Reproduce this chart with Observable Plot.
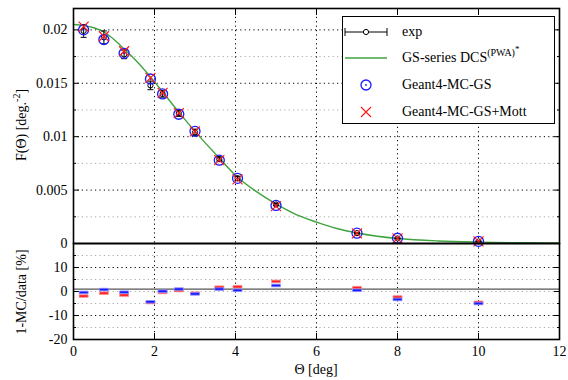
<!DOCTYPE html>
<html>
<head>
<meta charset="utf-8">
<script src="https://cdn.jsdelivr.net/npm/d3@7"></script>
<script src="https://cdn.jsdelivr.net/npm/@observablehq/plot@0.6"></script>
<style>
  body { margin: 0; background: #fff; }
  #wrap { position: relative; width: 568px; height: 380px; font-family: "Liberation Serif", "Times New Roman", Times, "DejaVu Serif", "Noto Serif", serif; color: #000; }
  #wrap svg { position: absolute; left: 0; overflow: visible; background: transparent; }
  #wrap svg text { font-family: "Liberation Serif", "Times New Roman", Times, "DejaVu Serif", "Noto Serif", serif; }
  .lbl { position: absolute; font-size: 14px; white-space: nowrap; }
  .ylab { position: absolute; font-size: 14px; white-space: nowrap; transform: translate(-50%, -50%) rotate(-90deg); }
  .legend { position: absolute; left: 342px; top: 16px; width: 213px; height: 108px; border: 1px solid #000; background: #fff; font-size: 14px; box-sizing: border-box; }
  .row { position: absolute; left: 0; height: 20px; width: 100%; }
  .row svg { position: absolute; left: 6px; top: 0; }
  .row span { position: absolute; left: 59px; top: 1px; line-height: 18px; }
  sup { font-size: 10px; line-height: 0; vertical-align: 6px; }
  sup sup { vertical-align: 4px; font-size: 9px; }
</style>
</head>
<body>
<div id="wrap"></div>
<script>
// ---- data ----
const theta   = [0.25, 0.75, 1.25, 1.9, 2.2, 2.6, 3.0, 3.6, 4.05, 5.0, 7.0, 8.0, 10.0];
const expF    = [0.0199, 0.0193, 0.0177, 0.0148, 0.0140, 0.0122, 0.0104, 0.0079, 0.0061, 0.00365, 0.00097, 0.00047, 0.00019];
const expErr  = [0.0006, 0.0006, 0.0004, 0.0004, 0.0003, 0.0003, 0.0003, 0.0002, 0.0002, 0.0001, 0.00005, 0.00003, 0.00002];
const mcGS    = [0.0200, 0.0191, 0.0178, 0.0154, 0.0140, 0.0121, 0.0105, 0.0078, 0.0061, 0.00356, 0.00097, 0.00049, 0.00020];
const mcMott  = [0.0203, 0.0194, 0.0180, 0.0155, 0.0141, 0.0122, 0.0105, 0.0078, 0.0060, 0.00350, 0.00095, 0.00048, 0.00020];
const resGS   = [-0.4, 0.8, -0.3, -4.3, 0.1, 1.0, -1.0, 1.0, 0.5, 2.5, 0.5, -3.3, -5.0];
const resMott = [-1.9, -0.7, -1.5, -4.6, -0.4, 0.4, -0.7, 1.8, 2.0, 4.2, 1.6, -2.3, -4.5];
const curveTheta = [0, 0.25, 0.5, 0.75, 1.0, 1.25, 1.5, 1.9, 2.2, 2.6, 3.0, 3.6, 4.05, 4.5, 5.0, 5.5, 6.0, 6.5, 7.0, 7.5, 8.0, 9.0, 10.0, 11.0, 12.0];
const curveF     = [0.0205, 0.0204, 0.0202, 0.0198, 0.0191, 0.0182, 0.0173, 0.0156, 0.0142, 0.0123, 0.0105, 0.0080, 0.0062, 0.0049, 0.0037, 0.0027, 0.0020, 0.0014, 0.00098, 0.00068, 0.00047, 0.00024, 0.00013, 0.00007, 0.00004];
const xTicks = [0, 2, 4, 6, 8, 10, 12];
const yTicksTop = [0, 0.005, 0.01, 0.015, 0.02];
const yMinorTop = [0.0025, 0.0075, 0.0125, 0.0175];
const yTicksBot = [-20, -10, 0, 10];
const yMinorBot = [-15, -5, 5, 15];
const yRefLine = 1;

(function () {
const FONT = "'Liberation Serif', 'Times New Roman', Times, 'DejaVu Serif', 'Noto Serif', serif";
const pts = theta.map((t, i) => ({t, e: expF[i], err: expErr[i], gs: mcGS[i], mott: mcMott[i], rg: resGS[i], rm: resMott[i]}));
const curve = curveTheta.map((t, i) => ({t, f: curveF[i]}));

// custom symbols
const timesSym = {draw(ctx, size) { const s = Math.sqrt(size / Math.PI); ctx.moveTo(-s, -s); ctx.lineTo(s, s); ctx.moveTo(s, -s); ctx.lineTo(-s, s); }};
const dashSym = {draw(ctx, size) { ctx.rect(-4.5, -1.3, 9, 2.6); }};
const capSym = {draw(ctx, size) { ctx.moveTo(-3, 0); ctx.lineTo(3, 0); }};

const dotted = {stroke: "#000", strokeOpacity: 1, strokeDasharray: "1.2,3.2", strokeWidth: 1};
const dottedLight = {stroke: "#aaa", strokeOpacity: 1, strokeDasharray: "1.2,3.2", strokeWidth: 1};
const innerX = [2, 4, 6, 8, 10];

const topPlot = Plot.plot({
  width: 568, height: 245,
  marginTop: 8, marginBottom: 2, marginLeft: 73, marginRight: 9,
  style: {fontFamily: FONT, fontSize: "14px", background: "transparent"},
  x: {domain: [0, 12]},
  y: {domain: [0, 0.022]},
  marks: [
    Plot.gridY(yMinorTop, dottedLight),
    Plot.gridY(yTicksTop.filter(d => d > 0), dotted),
    Plot.gridX(innerX, dotted),
    Plot.axisY(yTicksTop, {anchor: "left", tickSize: 0, tickPadding: 6, tickFormat: d => d === 0 ? "0" : String(d), label: null, fontSize: 14}),
    Plot.axisY(yTicksTop, {anchor: "left", tickSize: -6, tickFormat: () => "", label: null}),
    Plot.axisY(yMinorTop, {anchor: "left", tickSize: -3, tickFormat: () => "", label: null}),
    Plot.axisY(yTicksTop, {anchor: "right", tickSize: -6, tickFormat: () => "", label: null}),
    Plot.axisY(yMinorTop, {anchor: "right", tickSize: -3, tickFormat: () => "", label: null}),
    Plot.axisX(xTicks, {anchor: "top", tickSize: -6, tickFormat: () => "", label: null}),
    Plot.line(curve, {x: "t", y: "f", stroke: "#3fa33f", strokeWidth: 1.4, curve: "monotone-x"}),
    Plot.ruleX(pts, {x: "t", y1: d => d.e - d.err, y2: d => d.e + d.err, stroke: "#000", strokeWidth: 1}),
    Plot.dot(pts, {x: "t", y: d => d.e - d.err, symbol: capSym, r: 3, stroke: "#000", strokeWidth: 1}),
    Plot.dot(pts, {x: "t", y: d => d.e + d.err, symbol: capSym, r: 3, stroke: "#000", strokeWidth: 1}),
    Plot.dot(pts, {x: "t", y: "e", r: 2.6, stroke: "#000", fill: "none", strokeWidth: 1}),
    Plot.dot(pts, {x: "t", y: "gs", r: 5, stroke: "#1a1aff", fill: "none", strokeWidth: 1.3}),
    Plot.dot(pts, {x: "t", y: "gs", r: 0.9, fill: "#1a1aff", stroke: "none"}),
    Plot.dot(pts, {x: "t", y: "mott", r: 5, symbol: timesSym, stroke: "#ff1a1a", strokeWidth: 1.2}),
    Plot.frame({stroke: "#000", strokeWidth: 1.6})
  ]
});
topPlot.style.top = "0px";

const botPlot = Plot.plot({
  width: 568, height: 139,
  marginTop: 2, marginBottom: 41, marginLeft: 73, marginRight: 9,
  style: {fontFamily: FONT, fontSize: "14px", background: "transparent"},
  x: {domain: [0, 12]},
  y: {domain: [-20, 20]},
  marks: [
    Plot.gridY([...yMinorBot, 0], dottedLight),
    Plot.gridY([-10, 10], dotted),
    Plot.gridX(innerX, dotted),
    Plot.ruleY([yRefLine], {stroke: "#555", strokeWidth: 1.3}),
    Plot.axisY(yTicksBot, {anchor: "left", tickSize: 0, tickPadding: 6, tickFormat: d => String(d), label: null, fontSize: 14}),
    Plot.axisY([...yTicksBot, 20], {anchor: "left", tickSize: -6, tickFormat: () => "", label: null}),
    Plot.axisY(yMinorBot, {anchor: "left", tickSize: -3, tickFormat: () => "", label: null}),
    Plot.axisY([...yTicksBot, 20], {anchor: "right", tickSize: -6, tickFormat: () => "", label: null}),
    Plot.axisY(yMinorBot, {anchor: "right", tickSize: -3, tickFormat: () => "", label: null}),
    Plot.axisX(xTicks, {anchor: "bottom", tickSize: -6, tickPadding: 13, tickFormat: d => String(d), label: null, fontSize: 14}),
    Plot.dot(pts, {x: "t", y: "rm", symbol: dashSym, fill: "#ff2020", stroke: "#ff9090", strokeWidth: 0.8}),
    Plot.dot(pts, {x: "t", y: "rg", symbol: dashSym, fill: "#1a1aff", stroke: "#9090ff", strokeWidth: 0.8}),
    Plot.frame({stroke: "#000", strokeWidth: 1.6})
  ]
});
botPlot.style.top = "241px";

const wrap = document.getElementById("wrap");
wrap.appendChild(topPlot);
wrap.appendChild(botPlot);

function addHTML(html) { const d = document.createElement("div"); d.innerHTML = html; while (d.firstChild) wrap.appendChild(d.firstChild); }

addHTML(`<div class="ylab" style="left:22px;top:125px;">F(Θ) [deg.<sup>-2</sup>]</div>`);
addHTML(`<div class="ylab" style="left:22px;top:292px;">1-MC/data [%]</div>`);
addHTML(`<div class="lbl" style="left:316px;top:362px;transform:translateX(-50%);">Θ [deg]</div>`);

addHTML(`<div class="legend">
  <div class="row" style="top:5px;"><svg width="46" height="20"><line x1="2" y1="10" x2="44" y2="10" stroke="#000"/><line x1="2" y1="6" x2="2" y2="14" stroke="#000"/><line x1="44" y1="6" x2="44" y2="14" stroke="#000"/><circle cx="23" cy="10" r="2.6" fill="#fff" stroke="#000"/></svg><span>exp</span></div>
  <div class="row" style="top:31px;"><svg width="46" height="20"><line x1="2" y1="10" x2="44" y2="10" stroke="#3fa33f" stroke-width="1.4"/></svg><span>GS-series DCS<sup>(PWA)<sup>*</sup></sup></span></div>
  <div class="row" style="top:58px;"><svg width="46" height="20"><circle cx="23" cy="10" r="5" fill="none" stroke="#1a1aff" stroke-width="1.3"/><circle cx="23" cy="10" r="0.9" fill="#1a1aff"/></svg><span>Geant4-MC-GS</span></div>
  <div class="row" style="top:85px;"><svg width="46" height="20"><path d="M18,5L28,15M28,5L18,15" stroke="#ff1a1a" stroke-width="1.2"/></svg><span>Geant4-MC-GS+Mott</span></div>
</div>`);
})();
</script>
</body>
</html>
